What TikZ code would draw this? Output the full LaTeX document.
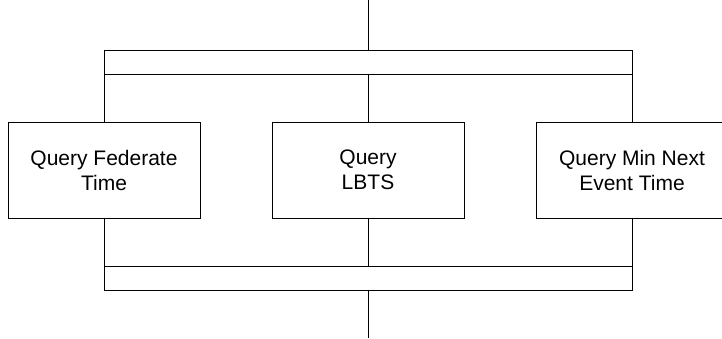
\documentclass[tikz,border=0pt]{standalone}
\usepackage{fontspec}
\setmainfont{Liberation Sans}
\usetikzlibrary{positioning}

\begin{document}
\begin{tikzpicture}[x=1pt,y=-1pt,line width=0.8pt,
  bar/.style={draw,minimum width=528pt,minimum height=24pt,inner sep=0pt},
  querybox/.style={draw,minimum width=192pt,minimum height=96pt,inner sep=0pt,
    align=center,font=\fontsize{21}{25}\selectfont}]
  \useasboundingbox (0,0) rectangle (722,338);
  \clip (0,0) rectangle (722,338);
  % entry and exit of the parallel block
  \coordinate (entry) at (368,0);
  \coordinate (exit) at (368,338);
  % fork and join bars
  \node[bar] (fork) at (368,62) {};
  \node[bar] (join) at (368,278) {};
  % the three queries
  \node[querybox] (fedtime) at (104,170) {Query Federate\\Time};
  \node[querybox] (lbts) at (368,170) {Query\\LBTS};
  \node[querybox] (minnext) at (632,170) {Query Min Next\\Event Time};
  % wiring
  \draw (entry) -- (fork.north);
  \draw (join.south) -- (exit);
  \foreach \q in {fedtime,lbts,minnext} {
    \draw (fork.south -| \q) -- (\q.north);
    \draw (\q.south) -- (join.north -| \q);
  }
\end{tikzpicture}
\end{document}
